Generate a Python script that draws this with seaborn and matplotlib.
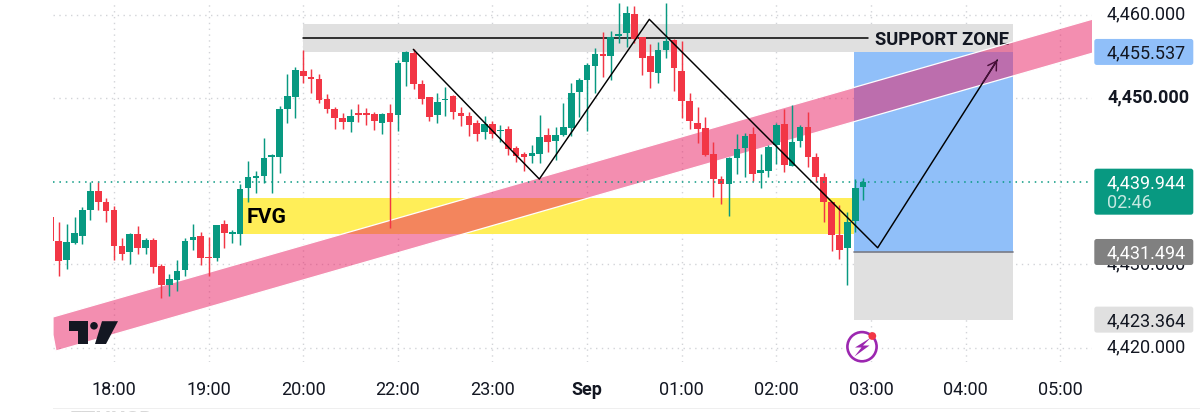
import numpy as np
import pandas as pd
import matplotlib
matplotlib.use("Agg")
import matplotlib.pyplot as plt
from matplotlib.patches import FancyBboxPatch, Polygon, Circle, Rectangle
from matplotlib.transforms import IdentityTransform, ScaledTranslation
import seaborn as sns

# ---- candle data (5 minute bars, first bar index = -8, bar 0 = 18:00) ----
first_index = -8
highs = [4435.68,4435.08,4434.88,4435.64,4436.88,4439.96,4439.88,4438.04,
 4437.04,4433.12,4433.76,4434.56,4433.2,4433.16,4430.08,4428.88,4430.48,4433.12,4434.84,4433.88,
 4433.24,4434.68,4435.36,4434.16,4439.68,4442.4,4441.24,4445.24,4443.28,4449.04,4452.88,4453.68,
 4455.76,4453.44,4452.88,4450.44,4448.88,4448.24,4448.64,4449.28,4448.76,4448.36,4448.24,4449.24,
 4454.56,4455.68,4455.84,4452.16,4450.16,4450.56,4451.28,4450.36,4448.96,4448.28,4447.36,4447.88,
 4447.24,4446.76,4446.64,4444.24,4443.48,4444.32,4448.0,4446.44,4446.56,4449.44,4451.84,4452.36,
 4454.16,4456.04,4457.96,4458.08,4461.36,4461.08,4461.08,4457.36,4456.48,4456.76,4461.36,4457.04,
 4456.88,4450.64,4448.96,4447.76,4444.68,4440.64,4442.88,4445.64,4445.76,4446.56,4443.28,4444.36,
 4446.96,4448.64,4449.12,4446.76,4448.36,4443.36,4441.04,4437.56,4437.16,4436.24,4440.24,4440.44]
lows = [4432.76,4428.56,4429.44,4432.44,4432.48,4435.28,4436.48,4435.08,
 4430.48,4430.56,4430.04,4431.2,4431.2,4428.96,4425.96,4426.24,4426.76,4428.64,4431.68,4429.88,
 4428.56,4430.36,4431.96,4432.56,4432.28,4437.56,4438.64,4439.76,4438.56,4441.04,4447.04,4447.56,
 4451.84,4450.64,4449.36,4448.24,4446.24,4446.24,4445.96,4447.16,4446.76,4446.16,4445.64,4434.36,
 4446.08,4451.48,4451.04,4449.28,4447.28,4446.96,4447.88,4447.44,4446.68,4445.44,4444.84,4445.08,
 4445.16,4444.76,4443.16,4442.36,4441.24,4442.24,4442.24,4443.56,4442.56,4445.44,4445.44,4447.76,
 4446.08,4450.56,4452.48,4452.16,4456.64,4456.16,4456.64,4452.76,4451.24,4451.84,4454.76,4450.88,
 4447.56,4446.24,4444.64,4443.08,4438.16,4437.28,4435.76,4440.88,4440.56,4440.08,4439.16,4440.56,
 4442.08,4441.16,4441.88,4444.08,4441.76,4439.96,4435.04,4431.56,4430.64,4427.52,4433.84,4437.76]
opens = [4435.68,4432.76,4430.48,4432.60,4433.36,4436.56,4438.88,4437.48,
 4436.56,4432.24,4431.44,4433.68,4432.0,4432.96,4429.76,4427.56,4428.08,4429.36,4432.88,4433.44,
 4430.92,4430.76,4434.8,4433.64,4433.68,4439.16,4440.44,4440.68,4442.96,4442.92,4448.68,4450.16,
 4453.28,4452.52,4452.24,4449.84,4448.72,4447.56,4447.12,4448.16,4448.16,4448.12,4447.04,4448.16,
 4447.92,4454.32,4455.36,4451.72,4450.12,4448.0,4449.72,4450.28,4448.16,4447.84,4447.0,4445.92,
 4446.92,4446.0,4446.32,4444.0,4443.24,4443.08,4443.24,4445.6,4444.84,4445.6,4446.36,4450.68,
 4452.16,4453.84,4455.24,4455.04,4457.48,4457.76,4460.12,4457.28,4455.04,4453.0,4455.76,4456.96,
 4453.24,4449.68,4447.0,4446.36,4443.28,4440.28,4439.72,4442.8,4444.0,4445.68,4441.0,4441.28,
 4444.32,4446.84,4441.88,4444.84,4446.52,4442.96,4440.56,4437.56,4433.56,4431.92,4435.16,4439.36]
closes = [4432.76,4430.44,4432.64,4433.76,4436.56,4438.80,4437.52,4436.44,
 4432.24,4431.28,4433.64,4432.0,4432.96,4429.64,4427.56,4428.24,4429.24,4432.8,4433.28,4430.8,
 4430.76,4434.68,4433.72,4433.84,4439.08,4440.48,4440.64,4442.8,4443.12,4448.68,4450.28,4453.36,
 4452.64,4452.28,4449.76,4448.68,4447.64,4447.16,4447.8,4448.0,4448.0,4447.24,4448.08,4447.12,
 4454.24,4455.52,4451.68,4449.88,4447.76,4449.48,4449.92,4448.28,4447.88,4446.72,4445.68,4446.88,
 4445.68,4446.16,4443.88,4443.04,4442.96,4443.36,4445.32,4444.72,4445.6,4446.52,4450.6,4452.12,
 4453.96,4455.24,4455.08,4457.36,4457.64,4460.16,4457.04,4454.84,4453.12,4455.8,4456.88,4453.64,
 4449.68,4447.2,4446.32,4443.16,4440.24,4439.72,4442.84,4443.88,4445.48,4440.88,4441.4,4444.12,
 4446.76,4441.92,4444.72,4446.52,4442.92,4440.52,4437.56,4433.48,4431.68,4435.12,4439.16,4439.944]

# ---- axis labels ----
time_ticks = [0, 12, 24, 36, 48, 60, 72, 84, 96, 108, 120]
time_labels = ["18:00","19:00","20:00","22:00","23:00","Sep","01:00","02:00","03:00","04:00","05:00"]
price_ticks = [4420, 4430, 4450, 4460]

# ---- drawings, in bar index / price ----
support_x = [23.97, 113.95]
support_y = [4455.537, 4458.9]
support_line_y = 4457.21
support_line_end = 95.6
fvg_x = [16.36, 93.85]
fvg_y = [4433.7, 4438.02]
pos_x = [93.85, 113.95]
target_price, entry_price, stop_price = 4455.537, 4431.494, 4423.364
last_price = 4439.944
band_x = [-7.74, 124.16, 124.16, -7.36, -7.74]
band_y = [4423.68, 4459.50, 4455.41, 4419.59, 4421.52]
zig_x = [37.96, 53.94, 67.89, 96.85, 112.02]
zig_y = [4455.85, 4440.26, 4459.46, 4432.0, 4454.57]

UP, DOWN = "#089981", "#F23645"
TEXT = "#131722"
FS = 13.0

sns.set_theme(style="white")
plt.rcParams["font.family"] = ["Roboto", "DejaVu Sans"]

fig = plt.figure(figsize=(12, 4.12), dpi=100, facecolor="white")
ax = fig.add_axes([53/1200, 50/412, 1039/1200, 359/412])

df = pd.DataFrame({"bar": np.arange(first_index, first_index + len(opens)),
                   "open": opens, "high": highs, "low": lows, "close": closes})
df["bottom"] = df[["open", "close"]].min(axis=1)
df["size"] = (df["close"] - df["open"]).abs().clip(lower=0.12)
df["up"] = df["close"] > df["open"]

for is_up, colour in [(True, UP), (False, DOWN)]:
    sub = df[df["up"] == is_up].sort_values("bar")
    sns.barplot(x=sub["bar"].values, y=sub["size"].values, bottom=sub["bottom"].values,
                native_scale=True, width=0.84, color=colour, saturation=1, errorbar=None,
                linewidth=0, ax=ax, zorder=3.2)
ax.vlines(df["bar"], df["low"], df["high"],
          colors=[UP if u else DOWN for u in df["up"]], lw=1.05, zorder=3.1)

ax.set_xlim(-7.736, 124.03)
ax.set_ylim(4418.27, 4461.42)
ax.set_xlabel(""); ax.set_ylabel("")
sns.despine(ax=ax, left=True, bottom=True)

# grid & ticks
ax.set_axisbelow(True)
ax.grid(True, color="#D2D4D8", linestyle=(0, (1, 3.2)), lw=1.0)
ax.set_xticks(time_ticks, time_labels)
ax.yaxis.tick_right()
ax.set_yticks(price_ticks, [f"{p:,.3f}" for p in price_ticks])
ax.tick_params(axis="x", length=0, pad=13.5, labelsize=FS, labelcolor=TEXT)
ax.tick_params(axis="y", length=0, pad=10.8, labelsize=FS, labelcolor=TEXT)
for lab in ax.get_xticklabels():
    if lab.get_text() == "Sep":
        lab.set_fontweight("bold")
nudge = ScaledTranslation(0, 1.6/72, fig.dpi_scale_trans)
for lab in ax.get_yticklabels():
    lab.set_transform(lab.get_transform() + nudge)
    if lab.get_text() == "4,450.000":
        lab.set_fontweight("bold")

# zones
ax.fill_between(support_x, *support_y, color="#E0E0E0", lw=0, zorder=1)
ax.plot([support_x[0], support_line_end], [support_line_y]*2, color="black", lw=1.1, zorder=1.5)
ax.text(96.5, support_line_y, "SUPPORT ZONE", fontsize=13.2, fontweight="bold", color=TEXT,
        va="center_baseline", ha="left", zorder=1.5)
ax.fill_between(fvg_x, *fvg_y, color="#FFEE58", lw=0, zorder=1)
ax.text(16.85, sum(fvg_y)/2, "FVG", fontsize=15.2, fontweight="bold", color="black",
        va="center_baseline", ha="left", zorder=3.6)
ax.fill_between(pos_x, entry_price, target_price, color="#90BFF9", lw=0, zorder=1)
ax.fill_between(pos_x, stop_price, entry_price, color="#E0E0E0", lw=0, zorder=1)
ax.plot(pos_x, [entry_price]*2, color="#787B86", lw=1.2, zorder=1.2)

# pink trend band
ax.add_patch(Polygon(np.column_stack([band_x, band_y]), closed=True, facecolor=(0.914, 0.118, 0.388, 0.5),
                     edgecolor="white", lw=0.9, zorder=2))

# last price line
ax.axhline(last_price, color=UP, linestyle=(0, (1, 3.2)), lw=1.1, zorder=3.5)

# projected path
sns.lineplot(x=zig_x, y=zig_y, sort=False, estimator=None, color="black", lw=1.05, ax=ax, zorder=5)
ax.annotate("", xy=(zig_x[-1], zig_y[-1]),
            xytext=(zig_x[-1] - 0.12*(zig_x[-1]-zig_x[-2]), zig_y[-1] - 0.12*(zig_y[-1]-zig_y[-2])),
            arrowprops=dict(arrowstyle="->,head_length=0.5,head_width=0.3", color="#4A0F3A", lw=1.05,
                            shrinkA=0, shrinkB=0), zorder=5)

# ---- price tags, drawn in pixels from the price scale ----
idt = IdentityTransform()
def ypix(price):
    return ax.transData.transform((0, price))[1]

def tag(price, colour, txt, txtcol, top_off=13, height=26):
    top = ypix(price) + top_off
    x0, x1, r = 1094.3, 1193.3, 2.5
    ax.add_patch(FancyBboxPatch((x0 + r, top - height + r), x1 - x0 - 2*r, height - 2*r,
                                boxstyle=f"round,pad={r},rounding_size={r}", fc=colour, ec="none",
                                transform=idt, clip_on=False, zorder=6))
    ax.text(1107, ypix(price) + 0.5, txt, color=txtcol, fontsize=FS, va="center_baseline", ha="left",
            transform=idt, clip_on=False, zorder=7)
    return top

tag(target_price, "#90BFF9", "4,455.537", TEXT)
tag(last_price, UP, "4,439.944", "white", top_off=13, height=46)
ax.text(1107, ypix(last_price) - 19.5, "02:46", color="#C4E8E0", fontsize=FS, va="center_baseline",
        ha="left", transform=idt, clip_on=False, zorder=7)
tag(entry_price, "#808080", "4,431.494", "white")
tag(stop_price, "#E0E0E0", "4,423.364", TEXT)

# ---- TradingView mark ----
def py(y):
    return 412 - y
logo = [
    [(68.5, 321.2), (88, 321.2), (88, 344), (78, 344), (78, 330.5), (68.5, 330.5)],
    [(102, 321.2), (118, 321.2), (106, 344), (95, 344)],
]
for pts in logo:
    ax.add_patch(Polygon([(x, py(y)) for x, y in pts], closed=True, fc="#131722", ec="none",
                         transform=idt, clip_on=False, zorder=6))
ax.add_patch(Circle((94, py(325.8)), 3.8, fc="#131722", ec="none", transform=idt, clip_on=False, zorder=6))

# ---- bolt badge ----
ax.add_patch(Circle((862, py(346.7)), 14.6, fc="white", ec="#9C27B0", lw=1.9, transform=idt,
                    clip_on=False, zorder=6))
ax.add_patch(Polygon([(x, py(y)) for x, y in
                      [(871, 337.5), (855, 347.5), (861.5, 347.5), (854.5, 356.5), (869.5, 345.5), (863, 345.5)]],
                     closed=True, fc="#9C27B0", ec="none", transform=idt, clip_on=False, zorder=7))
ax.add_patch(Circle((872.3, py(336)), 3.9, fc="#F23645", ec="none", transform=idt, clip_on=False, zorder=8))

# ---- faint footer, cut by the picture's edge ----
fig.add_artist(Rectangle((53/1200, 3.5/412), 1147/1200, 1/412, fc="#EFEFEF", ec="none", transform=fig.transFigure))
fig.text(70/1200, 2/412, "ETHUSD", fontsize=16, fontweight="bold", color="#D8D8D8", va="top", ha="left")

fig.savefig("out.png", dpi=100, facecolor="white")
